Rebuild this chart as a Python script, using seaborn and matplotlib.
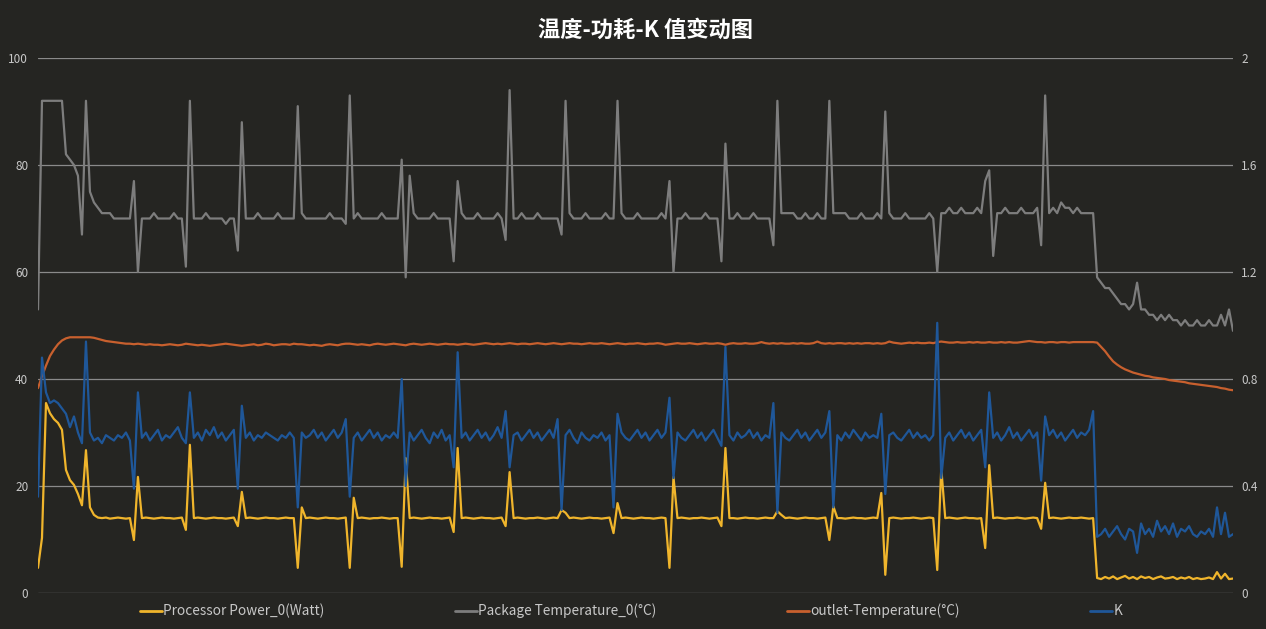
import numpy as np
import pandas as pd
import matplotlib
matplotlib.use("Agg")
import matplotlib.pyplot as plt
from matplotlib.lines import Line2D
import seaborn as sns

# ---------------- data (one sample every ~4 px of the original chart) ----------------
series_names = ["Processor Power_0(Watt)", "Package Temperature_0(°C)",
                "outlet-Temperature(°C)", "K"]

power_w = [
    4.7, 10.3, 35.5, 33.6, 32.5, 31.8, 30.5, 23.0, 21.1, 20.2,
    18.5, 16.4, 26.7, 16.0, 14.6, 14.1, 14.0, 14.1, 13.9, 14.0,
    14.1, 14.0, 13.9, 14.0, 9.9, 21.7, 14.0, 14.1, 14.0, 13.9,
    14.0, 14.1, 14.0, 14.0, 13.9, 14.0, 14.1, 11.8, 27.7, 14.0,
    14.1, 14.0, 13.9, 14.0, 14.1, 14.0, 14.0, 13.9, 14.0, 14.1,
    12.5, 18.9, 14.0, 14.1, 14.0, 13.9, 14.0, 14.1, 14.0, 14.0,
    13.9, 14.0, 14.1, 14.0, 14.0, 4.7, 16.0, 14.0, 14.1, 14.0,
    13.9, 14.0, 14.1, 14.0, 14.0, 13.9, 14.0, 14.1, 4.7, 17.8,
    14.0, 14.1, 14.0, 13.9, 14.0, 14.0, 14.1, 14.0, 13.9, 14.0,
    14.0, 4.9, 25.2, 14.0, 14.1, 14.0, 13.9, 14.0, 14.1, 14.0,
    14.0, 13.9, 14.0, 14.1, 11.4, 27.1, 14.0, 14.1, 14.0, 13.9,
    14.0, 14.1, 14.0, 14.0, 13.9, 14.0, 14.1, 12.5, 22.6, 14.0,
    14.1, 14.0, 13.9, 14.0, 14.0, 14.1, 14.0, 13.9, 14.0, 14.1,
    14.0, 15.5, 15.0, 14.0, 14.1, 14.0, 13.9, 14.0, 14.1, 14.0,
    14.0, 13.9, 14.0, 14.1, 11.2, 16.8, 14.0, 14.1, 14.0, 13.9,
    14.0, 14.1, 14.0, 14.0, 13.9, 14.0, 14.1, 14.0, 4.7, 21.7,
    14.0, 14.1, 14.0, 13.9, 14.0, 14.0, 14.1, 14.0, 13.9, 14.0,
    14.1, 12.5, 27.1, 14.0, 14.0, 13.9, 14.0, 14.1, 14.0, 14.0,
    13.9, 14.0, 14.1, 14.0, 14.0, 15.3, 14.6, 14.0, 14.1, 14.0,
    13.9, 14.0, 14.1, 14.0, 14.0, 13.9, 14.0, 14.1, 9.9, 16.2,
    14.0, 14.0, 13.9, 14.0, 14.1, 14.0, 14.0, 13.9, 14.0, 14.1,
    14.0, 18.7, 3.4, 14.0, 14.1, 14.0, 13.9, 14.0, 14.0, 14.1,
    14.0, 13.9, 14.0, 14.1, 14.0, 4.3, 23.4, 14.0, 14.1, 14.0,
    13.9, 14.0, 14.1, 14.0, 14.0, 13.9, 14.0, 8.4, 23.9, 14.0,
    14.1, 14.0, 13.9, 14.0, 14.0, 14.1, 14.0, 13.9, 14.0, 14.1,
    14.0, 12.0, 20.6, 14.0, 14.1, 14.0, 13.9, 14.0, 14.1, 14.0,
    14.0, 14.1, 14.0, 13.9, 14.0, 2.8, 2.6, 3.0, 2.7, 3.1,
    2.6, 2.9, 3.2, 2.7, 3.0, 2.6, 3.1, 2.8, 3.0, 2.6,
    2.9, 3.1, 2.7, 2.8, 3.0, 2.6, 2.9, 2.7, 3.0, 2.6,
    2.8, 2.6, 2.7, 2.9, 2.6, 3.9, 2.7, 3.6, 2.6, 2.7,
]

package_temp = [
    53, 92, 92, 92, 92, 92, 92, 82, 81, 80,
    78, 67, 92, 75, 73, 72, 71, 71, 71, 70,
    70, 70, 70, 70, 77, 60, 70, 70, 70, 71,
    70, 70, 70, 70, 71, 70, 70, 61, 92, 70,
    70, 70, 71, 70, 70, 70, 70, 69, 70, 70,
    64, 88, 70, 70, 70, 71, 70, 70, 70, 70,
    71, 70, 70, 70, 70, 91, 71, 70, 70, 70,
    70, 70, 70, 71, 70, 70, 70, 69, 93, 70,
    71, 70, 70, 70, 70, 70, 71, 70, 70, 70,
    70, 81, 59, 78, 71, 70, 70, 70, 70, 71,
    70, 70, 70, 70, 62, 77, 71, 70, 70, 70,
    71, 70, 70, 70, 70, 71, 70, 66, 94, 70,
    70, 71, 70, 70, 70, 71, 70, 70, 70, 70,
    70, 67, 92, 71, 70, 70, 70, 71, 70, 70,
    70, 70, 71, 70, 70, 92, 71, 70, 70, 70,
    71, 70, 70, 70, 70, 70, 71, 70, 77, 60,
    70, 70, 71, 70, 70, 70, 70, 71, 70, 70,
    70, 62, 84, 70, 70, 71, 70, 70, 70, 71,
    70, 70, 70, 70, 65, 92, 71, 71, 71, 71,
    70, 70, 71, 70, 70, 71, 70, 70, 92, 71,
    71, 71, 71, 70, 70, 70, 71, 70, 70, 70,
    71, 70, 90, 71, 70, 70, 70, 71, 70, 70,
    70, 70, 70, 71, 70, 60, 71, 71, 72, 71,
    71, 72, 71, 71, 71, 72, 71, 77, 79, 63,
    71, 71, 72, 71, 71, 71, 72, 71, 71, 71,
    72, 65, 93, 71, 72, 71, 73, 72, 72, 71,
    72, 71, 71, 71, 71, 59, 58, 57, 57, 56,
    55, 54, 54, 53, 54, 58, 53, 53, 52, 52,
    51, 52, 51, 52, 51, 51, 50, 51, 50, 50,
    51, 50, 50, 51, 50, 50, 52, 50, 53, 49,
]

outlet_temp = [
    38.3, 40.5, 42.5, 44.3, 45.5, 46.5, 47.2, 47.6, 47.8, 47.8,
    47.8, 47.8, 47.8, 47.8, 47.7, 47.5, 47.3, 47.1, 47.0, 46.9,
    46.8, 46.7, 46.6, 46.6, 46.5, 46.6, 46.5, 46.4, 46.5, 46.4,
    46.4, 46.3, 46.4, 46.5, 46.4, 46.3, 46.4, 46.6, 46.5, 46.4,
    46.3, 46.4, 46.3, 46.2, 46.3, 46.4, 46.5, 46.6, 46.5, 46.4,
    46.3, 46.2, 46.3, 46.4, 46.5, 46.3, 46.4, 46.6, 46.5, 46.3,
    46.4, 46.5, 46.5, 46.4, 46.6, 46.5, 46.5, 46.4, 46.3, 46.4,
    46.3, 46.2, 46.4, 46.5, 46.4, 46.3, 46.5, 46.6, 46.6, 46.5,
    46.4, 46.5, 46.4, 46.3, 46.5, 46.6, 46.5, 46.4, 46.5, 46.6,
    46.5, 46.4, 46.3, 46.5, 46.6, 46.5, 46.4, 46.5, 46.6, 46.5,
    46.4, 46.5, 46.6, 46.5, 46.5, 46.4, 46.5, 46.6, 46.5, 46.4,
    46.5, 46.6, 46.7, 46.6, 46.5, 46.6, 46.5, 46.6, 46.7, 46.6,
    46.5, 46.6, 46.6, 46.5, 46.6, 46.7, 46.6, 46.5, 46.6, 46.7,
    46.6, 46.5, 46.6, 46.7, 46.6, 46.6, 46.5, 46.6, 46.7, 46.6,
    46.6, 46.7, 46.6, 46.5, 46.6, 46.7, 46.6, 46.5, 46.6, 46.6,
    46.7, 46.6, 46.5, 46.6, 46.6, 46.7, 46.6, 46.4, 46.5, 46.6,
    46.7, 46.6, 46.6, 46.7, 46.6, 46.5, 46.6, 46.7, 46.6, 46.6,
    46.7, 46.6, 46.4, 46.6, 46.7, 46.6, 46.6, 46.7, 46.6, 46.6,
    46.7, 46.9, 46.7, 46.6, 46.7, 46.6, 46.7, 46.6, 46.6, 46.7,
    46.6, 46.7, 46.6, 46.6, 46.7, 47.0, 46.7, 46.6, 46.7, 46.6,
    46.7, 46.7, 46.6, 46.7, 46.6, 46.7, 46.6, 46.7, 46.7, 46.6,
    46.7, 46.6, 46.7, 47.0, 46.8, 46.7, 46.6, 46.7, 46.8, 46.7,
    46.8, 46.7, 46.7, 46.8, 46.7, 46.9, 47.0, 46.9, 46.8, 46.8,
    46.9, 46.8, 46.8, 46.9, 46.8, 46.9, 46.8, 46.8, 46.9, 46.8,
    46.8, 46.9, 46.8, 46.9, 46.8, 46.8, 46.9, 47.0, 47.1, 47.0,
    46.9, 46.9, 46.8, 46.9, 46.9, 46.8, 46.9, 46.9, 46.8, 46.9,
    46.9, 46.9, 46.9, 46.9, 46.9, 46.8, 46.0, 45.2, 44.2, 43.3,
    42.7, 42.2, 41.8, 41.5, 41.2, 41.0, 40.8, 40.6, 40.5, 40.3,
    40.2, 40.1, 40.0, 39.8, 39.7, 39.6, 39.5, 39.4, 39.2, 39.1,
    39.0, 38.9, 38.8, 38.7, 38.6, 38.5, 38.3, 38.2, 38.0, 37.9,
]

k_value = [
    0.36, 0.88, 0.75, 0.71, 0.72, 0.71, 0.69, 0.67, 0.62, 0.66,
    0.60, 0.56, 0.94, 0.60, 0.57, 0.58, 0.56, 0.59, 0.58, 0.57,
    0.59, 0.58, 0.60, 0.57, 0.39, 0.75, 0.58, 0.60, 0.57, 0.59,
    0.61, 0.57, 0.59, 0.58, 0.60, 0.62, 0.58, 0.56, 0.75, 0.58,
    0.60, 0.57, 0.61, 0.59, 0.62, 0.58, 0.60, 0.57, 0.59, 0.61,
    0.39, 0.70, 0.58, 0.60, 0.57, 0.59, 0.58, 0.60, 0.59, 0.58,
    0.57, 0.59, 0.58, 0.60, 0.58, 0.32, 0.60, 0.58, 0.59, 0.61,
    0.58, 0.60, 0.57, 0.59, 0.61, 0.58, 0.60, 0.65, 0.36, 0.58,
    0.60, 0.57, 0.59, 0.61, 0.58, 0.60, 0.57, 0.59, 0.58, 0.60,
    0.58, 0.80, 0.40, 0.60, 0.57, 0.59, 0.61, 0.58, 0.56, 0.60,
    0.58, 0.61, 0.57, 0.59, 0.47, 0.90, 0.58, 0.60, 0.57, 0.59,
    0.61, 0.58, 0.60, 0.57, 0.59, 0.62, 0.58, 0.68, 0.47, 0.59,
    0.60, 0.57, 0.59, 0.61, 0.58, 0.60, 0.57, 0.59, 0.61, 0.58,
    0.65, 0.31, 0.59, 0.61, 0.58, 0.56, 0.60, 0.58, 0.57, 0.59,
    0.58, 0.60, 0.57, 0.59, 0.32, 0.67, 0.60, 0.58, 0.57, 0.59,
    0.61, 0.58, 0.60, 0.57, 0.59, 0.61, 0.58, 0.60, 0.73, 0.43,
    0.60, 0.58, 0.57, 0.59, 0.61, 0.58, 0.60, 0.57, 0.59, 0.61,
    0.58, 0.55, 0.92, 0.59, 0.57, 0.60, 0.58, 0.59, 0.61, 0.58,
    0.60, 0.57, 0.59, 0.58, 0.71, 0.30, 0.60, 0.58, 0.57, 0.59,
    0.61, 0.58, 0.60, 0.57, 0.59, 0.61, 0.58, 0.60, 0.68, 0.32,
    0.59, 0.57, 0.60, 0.58, 0.61, 0.59, 0.57, 0.60, 0.58, 0.59,
    0.58, 0.67, 0.37, 0.59, 0.60, 0.58, 0.57, 0.59, 0.61, 0.58,
    0.60, 0.58, 0.59, 0.57, 0.59, 1.01, 0.43, 0.58, 0.60, 0.57,
    0.59, 0.61, 0.58, 0.60, 0.57, 0.59, 0.61, 0.47, 0.75, 0.58,
    0.60, 0.57, 0.59, 0.62, 0.58, 0.60, 0.57, 0.59, 0.61, 0.58,
    0.60, 0.42, 0.66, 0.59, 0.61, 0.58, 0.60, 0.57, 0.59, 0.61,
    0.58, 0.60, 0.59, 0.61, 0.68, 0.21, 0.22, 0.24, 0.21, 0.23,
    0.25, 0.22, 0.20, 0.24, 0.23, 0.15, 0.26, 0.22, 0.24, 0.21,
    0.27, 0.23, 0.25, 0.22, 0.26, 0.21, 0.24, 0.23, 0.25, 0.22,
    0.21, 0.23, 0.22, 0.24, 0.21, 0.32, 0.22, 0.30, 0.21, 0.22,
]

left_ticks = [0, 20, 40, 60, 80, 100]
right_ticks = [0, 0.4, 0.8, 1.2, 1.6, 2]
right_tick_labels = ["0", "0.4", "0.8", "1.2", "1.6", "2"]
title_text = "温度-功耗-K 值变动图"

n = len(power_w)
assert len(package_temp) == n and len(outlet_temp) == n and len(k_value) == n, \
    (len(power_w), len(package_temp), len(outlet_temp), len(k_value))

df = pd.DataFrame({
    "t": np.arange(n),
    "power": power_w,
    "pkg": package_temp,
    "outlet": outlet_temp,
    "k": k_value,
})

# ---------------- style ----------------
sns.set_theme(style="dark")
plt.rcParams["font.family"] = ["Noto Sans CJK SC", "DejaVu Sans"]
plt.rcParams["axes.unicode_minus"] = False

BG = "#252522"
C_POWER = "#f0b52c"
C_PKG = "#7d7d7d"
C_OUT = "#c8602e"
C_K = "#1f5799"
TXT = "#c8c8c8"

W, H = 1266, 629
fig = plt.figure(figsize=(W / 100, H / 100), dpi=100, facecolor=BG)
x0, x1, y_top, y_bot = 38, 1233, 58, 593
ax = fig.add_axes([x0 / W, 1 - y_bot / H, (x1 - x0) / W, (y_bot - y_top) / H])
ax.set_facecolor(BG)

lw = 1.6
sns.lineplot(data=df, x="t", y="power", ax=ax, color=C_POWER, linewidth=lw, legend=False)
sns.lineplot(data=df, x="t", y="pkg", ax=ax, color=C_PKG, linewidth=lw, legend=False)
sns.lineplot(data=df, x="t", y="outlet", ax=ax, color=C_OUT, linewidth=lw, legend=False)

ax2 = ax.twinx()
ax2.set_facecolor("none")
sns.lineplot(data=df, x="t", y="k", ax=ax2, color=C_K, linewidth=lw, legend=False)

for a in (ax, ax2):
    for s in a.spines.values():
        s.set_visible(False)
    a.set_xlim(0, n - 1)
    a.set_xticks([])
    a.set_xlabel("")
    a.set_ylabel("")

ax.set_ylim(0, 100)
ax.set_yticks(left_ticks)
ax.set_yticklabels([str(v) for v in left_ticks])
ax.tick_params(axis="y", length=0, pad=7, labelcolor=TXT, labelsize=8.5)
ax.yaxis.grid(True, color="#8a8a8a", linewidth=0.9)
ax.xaxis.grid(False)
ax.set_axisbelow(True)

ax2.set_ylim(0, 2)
ax2.set_yticks(right_ticks)
ax2.set_yticklabels(right_tick_labels)
ax2.tick_params(axis="y", length=0, pad=6, labelcolor=TXT, labelsize=8.5)
ax2.grid(False)

fig.text(646 / W, 1 - 30 / H, title_text, ha="center", va="center",
         fontsize=16, fontweight="bold", color="white")

handles = [Line2D([], [], color=c, linewidth=2.0) for c in (C_POWER, C_PKG, C_OUT, C_K)]
leg = fig.legend(handles, series_names, loc="center", bbox_to_anchor=(631 / W, 1 - 611 / H),
                 ncol=4, frameon=False, fontsize=9.8, handlelength=1.6, handletextpad=0.1,
                 columnspacing=9.6, labelcolor=TXT)

fig.savefig("out.png", dpi=100, facecolor=BG)
